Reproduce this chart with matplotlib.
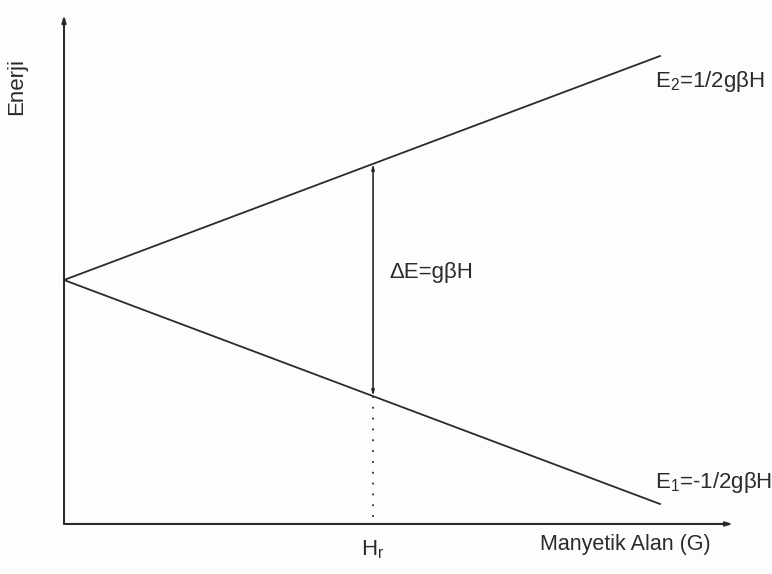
import numpy as np
import matplotlib.pyplot as plt

plt.rcParams['font.family'] = ['Liberation Sans', 'DejaVu Sans']
plt.rcParams['mathtext.fontset'] = 'custom'
plt.rcParams['mathtext.rm'] = 'Liberation Sans'

# Zeeman splitting of a spin-1/2 level: E = +/- 1/2 g beta H
H = np.array([0.0, 1.0])          # field, reduced units
E_upper = 0.5 * H                  # E2 = +1/2 g beta H
E_lower = -0.5 * H                 # E1 = -1/2 g beta H
H_res = 0.5185                     # resonance field Hr

# axis extents in the same units
x_axis_end = 1.1225
y_axis_bottom = -0.5446
y_axis_top = 0.5915

ink = '#2b2b2b'

fig = plt.figure(figsize=(7.72, 5.74), dpi=100)
fig.patch.set_facecolor('#fdfdfb')
ax = fig.add_axes([0, 0, 1, 1])
ax.set_facecolor('#fdfdfb')
ax.set_xlim(-0.1074, 1.1879)
ax.set_ylim(-0.65625, 0.625)
ax.axis('off')

# coordinate axes with arrow heads
ax.annotate('', xy=(0, y_axis_top), xytext=(0, y_axis_bottom),
            arrowprops=dict(arrowstyle='-|>,head_length=0.4,head_width=0.12',
                            color=ink, lw=1.5, shrinkA=0, shrinkB=0))
ax.annotate('', xy=(x_axis_end, y_axis_bottom), xytext=(0, y_axis_bottom),
            arrowprops=dict(arrowstyle='-|>,head_length=0.4,head_width=0.12',
                            color=ink, lw=1.5, shrinkA=0, shrinkB=0))

# the two energy levels
ax.plot(H, E_upper, color=ink, lw=1.3)
ax.plot(H, E_lower, color=ink, lw=1.3)

# transition at Hr
e_hi = 0.5 * H_res
e_lo = -0.5 * H_res
ax.annotate('', xy=(H_res, e_hi), xytext=(H_res, e_lo),
            arrowprops=dict(arrowstyle='<|-|>,head_length=0.3,head_width=0.08',
                            color=ink, lw=1.2, shrinkA=0, shrinkB=0))
ax.plot([H_res, H_res], [e_lo, y_axis_bottom], color=ink, lw=1.3,
        linestyle=(0, (1, 5)))

# labels
ax.text(-0.0789, 0.433, 'Enerji', rotation=90, ha='center', va='center',
        fontsize=16, color=ink)
ax.text(0.992, 0.442, r'E$_\mathregular{2}$=1/2gβH', ha='left', va='center',
        fontsize=16, color=ink)
ax.text(0.992, -0.453, r'E$_\mathregular{1}$=-1/2gβH', ha='left', va='center',
        fontsize=16, color=ink)
ax.text(0.546, 0.016, 'ΔE=gβH', ha='left', va='center',
        fontsize=16, color=ink)
ax.text(H_res, -0.603, r'H$_\mathregular{r}$', ha='center', va='center',
        fontsize=16, color=ink)
ax.text(0.7986, -0.5915, 'Manyetik Alan (G)', ha='left', va='center',
        fontsize=15.5, color=ink)

fig.savefig('out.png', dpi=100, facecolor=fig.get_facecolor())
